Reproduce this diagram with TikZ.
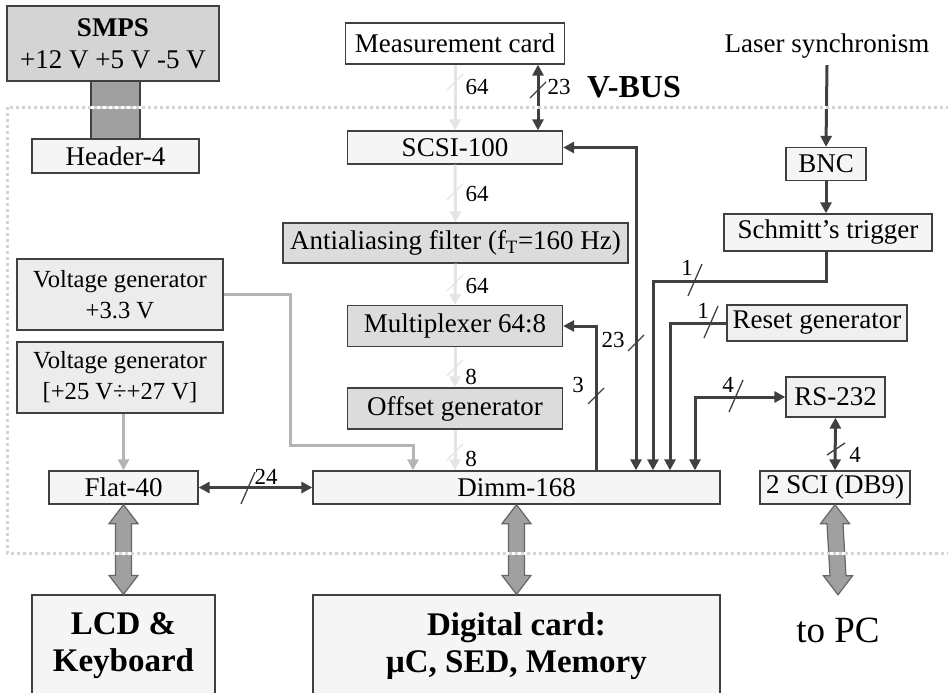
\documentclass[tikz,border=0pt]{standalone}
\usepackage{fontspec}
\setmainfont{Liberation Serif}
\usetikzlibrary{arrows.meta,calc}

\definecolor{edgegray}{HTML}{404040}
\definecolor{darkline}{HTML}{404040}
\definecolor{lightline}{HTML}{E4E4E4}
\definecolor{midline}{HTML}{B4B4B4}
\definecolor{fillA}{HTML}{F5F5F5}
\definecolor{fillB}{HTML}{DCDCDC}
\definecolor{fillC}{HTML}{ECECEC}
\definecolor{fillD}{HTML}{D4D4D4}
\definecolor{fatfill}{HTML}{A0A0A0}
\definecolor{framegray}{HTML}{D4D4D4}

\newcommand\vtick[3][tick]{\draw[#1] (#2,#3) ++(-8,8) -- ++(16,-16);}
\newcommand\htick[3][tick]{\draw[#1] (#2,#3) ++(-7,16) -- ++(14,-32);}
\newcommand\fatlink[2]{\draw[fat] (#1) -- ($(#1)+(14.5,19)$) -- ($(#1)+(8,19)$)
  -- ($(#2)+(8,-19)$) -- ($(#2)+(14.5,-19)$) -- (#2) -- ($(#2)+(-14.5,-19)$)
  -- ($(#2)+(-8,-19)$) -- ($(#1)+(-8,19)$) -- ($(#1)+(-14.5,19)$) -- cycle;}

\begin{document}
\begin{tikzpicture}[x=1pt,y=-1pt,
    box/.style={draw=edgegray, line width=1.3pt, fill=fillA, inner sep=0,
                align=center, font=\fontsize{27}{32}\selectfont},
    vgbox/.style={box, fill=fillC, font=\fontsize{24.6}{31}\selectfont},
    bigbox/.style={box, fill=fillA, font=\fontsize{33}{37}\selectfont\bfseries},
    num/.style={inner sep=0, font=\fontsize{23}{26}\selectfont},
    dkline/.style={draw=darkline, line width=3pt},
    ltline/.style={draw=lightline, line width=3pt},
    mdline/.style={draw=midline, line width=3pt},
    tick/.style={draw=darkline, line width=1.3pt},
    lttick/.style={draw=lightline, line width=1.3pt},
    bar/.style={draw=edgegray, line width=1.3pt, fill=fatfill},
    fat/.style={draw=edgegray!80, line width=1.2pt, fill=fatfill, line join=miter},
    >={Triangle[length=11pt,width=11pt]}]
\useasboundingbox (0,0) rectangle (948,693);

\node[box, fill=fillD, minimum width=212, minimum height=75] (smps) at (113,43.5)
  {\textbf{SMPS}\\+12 V +5 V -5 V};
\node[box, minimum width=167, minimum height=34] (header) at (115.5,156) {Header-4};
\draw[bar] ($(header.north)+(-24.5,0)$) rectangle ($(header.north |- smps.south)+(24.5,0)$);

\node[box, fill=white, minimum width=219, minimum height=41] (meas) at (455,43.5) {Measurement card};
\node[box, minimum width=215, minimum height=33] (scsi) at (455,147.5) {SCSI-100};
\node[box, fill=fillB, minimum width=345, minimum height=40] (filter) at (455.5,243)
  {Antialiasing filter (f\textsubscript{T}=160 Hz)};
\node[box, fill=fillB, minimum width=215, minimum height=41] (mux) at (455,326) {Multiplexer 64:8};
\node[box, fill=fillB, minimum width=215, minimum height=41] (offset) at (455,408.5) {Offset generator};
\node[box, minimum width=407, minimum height=33] (dimm) at (516.5,487.5) {Dimm-168};

\node[vgbox, minimum width=206, minimum height=71] (vgA) at (120,294.5) {Voltage generator\\+3.3 V};
\node[vgbox, minimum width=206, minimum height=71] (vgB) at (120,377.5) {Voltage generator\\{}[+25 V÷+27 V]};
\node[box, minimum width=149, minimum height=33] (flat) at (123.5,487.5) {Flat-40};

\node[inner sep=0, minimum height=38, font=\fontsize{27}{32}\selectfont] (laser) at (827,46) {Laser synchronism};
\node[box, minimum width=80, minimum height=33] (bnc) at (826,164) {BNC};
\node[box, minimum width=208, minimum height=37] (schmitt) at (828,232.5) {Schmitt’s trigger};
\node[box, fill=fillC!60!fillA, minimum width=180, minimum height=36] (reset) at (817,323) {Reset generator};
\node[box, fill=fillC!60!fillA, minimum width=99, minimum height=40] (rs) at (835.5,397) {RS-232};
\node[box, minimum width=150, minimum height=33] (sci) at (835,487.5) {2 SCI (DB9)};

\node[bigbox, minimum width=183, minimum height=102] (lcd) at (123.5,646) {LCD \&\\Keyboard};
\node[bigbox, minimum width=407, minimum height=102] (dig) at (516.5,646) {Digital card:\\μC, SED, Memory};
\node[inner sep=0, minimum height=70, font=\fontsize{37}{40}\selectfont] (topc) at (838,630) {to PC};
\node[inner sep=0, font=\fontsize{32}{36}\selectfont\bfseries] (vbus) at (634,87) {V-BUS};

\coordinate (vb) at (538,0);
\coordinate (vin) at (413,0);
\coordinate (bend) at (290,445);
\coordinate (mx) at (596,0);
\coordinate (sx) at (636,0);
\coordinate (trig) at (653,281);
\coordinate (rx) at (670,0);
\coordinate (ry) at (695,0);

\draw[ltline,->] (meas.south) -- (scsi.north);
\draw[ltline,->] (scsi.south) -- (filter.north);
\draw[ltline,->] (filter.south) -- (mux.north);
\draw[ltline,->] (mux.south) -- (offset.north);
\draw[ltline,->] (offset.south) -- (offset.south |- dimm.north);
\vtick[lttick]{455}{82}
\vtick[lttick]{455}{192}
\vtick[lttick]{455}{283}
\vtick[lttick]{455}{368}
\vtick[lttick]{455}{452}
\node[num] at (477,87) {64};
\node[num] at (477,194) {64};
\node[num] at (477,286) {64};
\node[num] at (471,377) {8};
\node[num] at (471,459) {8};

\draw[dkline,<->] (meas.south -| vb) -- (scsi.north -| vb);
\vtick{538}{90}
\node[num] at (559,87) {23};

\draw[mdline,->] (vgA.east) -| (bend) -| (dimm.north -| vin);
\draw[mdline,->] (vgB.south -| flat.north) -- (flat.north);

\draw[dkline,<->] (flat.east) -- (dimm.west);
\htick{248}{488}
\node[num] at (266,477) {24};

\draw[dkline,->] (dimm.north -| mx) |- (mux.east);
\vtick{596}{396}
\node[num] at (578,385) {3};

\draw[dkline,<->] (dimm.north -| sx) |- (scsi.east);
\vtick{636}{343}
\node[num] at (613,340) {23};

\draw[dkline,->] (laser.south) -- (bnc.north);
\draw[dkline,->] (bnc.south) -- (bnc.south |- schmitt.north);
\draw[dkline,->] (schmitt.south -| bnc.south) |- (trig) -- (dimm.north -| trig);
\htick{695}{280}
\node[num] at (687,268) {1};

\draw[dkline,->] (reset.west) -| (dimm.north -| rx);
\htick{711}{322}
\node[num] at (703,311) {1};

\draw[dkline,<->] (dimm.north -| ry) |- (rs.west);
\htick{736}{396}
\node[num] at (728,385) {4};

\draw[dkline,<->] (rs.south) -- (sci.north);
\draw[tick] (836,449) ++(-9,6) -- ++(18,-12);
\node[num] at (855,455) {4};

\fatlink{flat.south}{lcd.north}
\fatlink{dimm.south}{dig.north}
\fatlink{sci.south}{topc.north}

\draw[white, line width=3pt] (7,107) rectangle (980,553);
\draw[framegray, line width=3pt, dash pattern=on 3pt off 3pt] (7,107) rectangle (980,553);
\end{tikzpicture}
\end{document}
